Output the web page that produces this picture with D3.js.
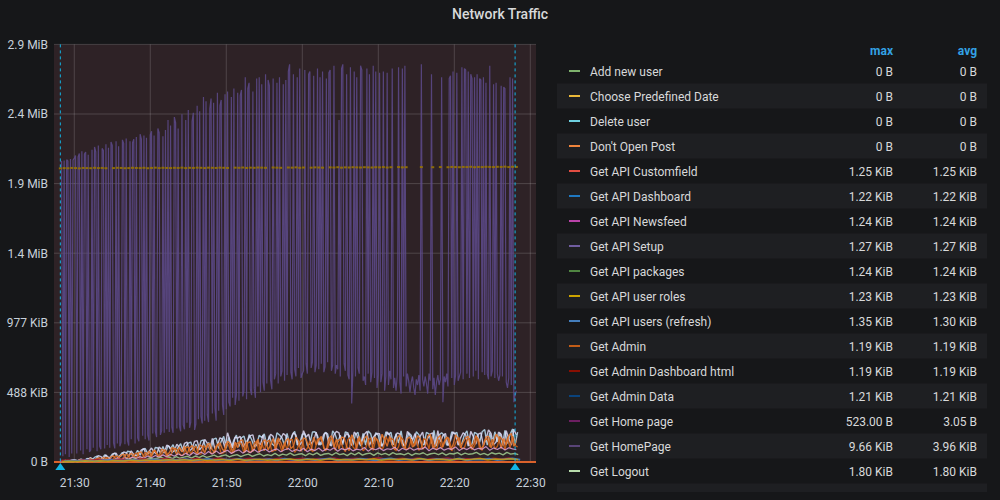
<!DOCTYPE html>
<html><head><meta charset="utf-8">
<script src="https://cdn.jsdelivr.net/npm/d3@7"></script>
<style>
html,body{margin:0;padding:0;background:#161719;}
svg{display:block;font-family:Roboto,"Noto Sans",sans-serif;}
</style></head><body>
<svg id="c" width="1000" height="500"></svg>
<script>
// ---------------- DATA ----------------
const title = "Network Traffic";
const yTickValues = [0, 500000, 1000000, 1500000, 2000000, 2500000, 3000000]; // bytes
const yTickLabels = ["0 B", "488 KiB", "977 KiB", "1.4 MiB", "1.9 MiB", "2.4 MiB", "2.9 MiB"];
const xTickTimes = ["21:30", "21:40", "21:50", "22:00", "22:10", "22:20", "22:30"];
const xTickLabels = ["21:30", "21:40", "21:50", "22:00", "22:10", "22:20", "22:30"];
const annotationTimes = ["21:28:10", "22:28:00"];
const seriesStart = "21:28:10";

// big purple series, KiB, every 10 s
const purpleKiB = [
 2105,2110,40,2115,55,2120,2112,35,2125,60,2118,2130,
 2150,60,2140,2165,80,2180,55,2160,2175,90,2155,70,
 85,2190,100,2210,2175,75,2220,110,90,2200,2185,95,
 2230,120,2205,100,2245,2220,135,95,2250,130,2215,110,
 140,2260,2235,125,2270,150,115,2250,160,2240,2265,130,
 2280,170,145,2300,2265,185,2290,160,2275,190,150,2295,
 2320,200,2290,215,175,2340,2310,190,220,2285,205,2330,
 230,2400,210,2360,245,205,2420,2380,235,2340,250,215,
 2440,260,230,2400,275,2470,240,280,2390,2450,225,265,
 2500,300,2460,320,270,2560,290,2530,330,280,2480,2550,
 340,2520,380,290,2590,360,2500,2540,400,330,2580,370,
 2600,420,390,2560,450,2620,400,470,2590,430,2570,2610,
 460,500,2700,440,2620,2660,510,470,2600,520,450,2690,
 530,2700,490,2650,560,500,2720,550,2680,2640,570,510,
 2690,580,620,2660,550,2700,600,640,2650,570,2680,610,
 2740,2790,630,580,2720,650,600,2700,660,2760,590,620,
 640,2750,690,620,2720,2740,660,700,2710,630,680,2760,
 650,2700,690,2740,630,670,2690,700,2730,2750,640,680,
 2780,620,680,650,2400,600,2760,2790,690,640,2720,610,
 580,2770,410,640,2740,600,2700,660,620,2780,2750,570,
 600,540,2760,620,2720,560,630,2780,590,2740,520,610,
 2730,560,620,2740,500,600,2730,540,640,580,2760,520,
 590,500,610,2770,560,480,2760,600,2780,530,620,570,
 490,560,600,520,470,580,540,610,500,2790,580,530,
 600,550,480,620,570,2720,510,590,470,560,610,540,
 580,2700,420,600,560,620,530,2690,2710,590,2740,540,
 610,2730,570,600,630,2770,580,2760,2750,620,2740,590,
 2720,2690,600,2700,640,2720,580,2690,2680,630,2700,610,
 2660,620,580,2780,600,640,2650,590,2660,620,570,610,
 2640,600,2630,2620,560,520,590,2700,540,2690,420,470,
 500
];

// gold dotted series, KiB, every 30 s (null = no data)
const goldKiB = [
 2060,2062,2061,2063,2062,2060,2063,2062,2061,2064,2062,2063,2061,null,2062,2064,2063,2061,2062,2064,
 2063,2062,2064,2061,2063,2065,2062,2064,2063,2062,2064,2063,2065,2062,2064,2063,2065,2064,2062,2065,
 2064,2063,2065,2064,2063,null,2065,2064,2066,2063,2065,2064,2066,2065,2064,null,2066,2065,2064,null,
 2066,2065,2067,2064,2066,null,2065,2067,2066,2065,null,2067,2066,2068,2065,2067,2066,2068,2067,2066,
 2068,2067,2066,2068,2067,2069,2066,2068,null,2069,2067,2068,null,null,null,2069,null,null,2068,null,
 2069,null,2068,2070,2069,2068,2070,2069,2071,2068,2070,2069,2071,2070,2069,2071,2070,2072,2069,2071,2070
];

// light blue series, KiB, every 20 s (offset 10 s)
const lightBlueKiB = [
 3,9,5,7,14,11,6,16,19,8,
 25,14,18,32,42,16,24,50,38,28,
 55,62,32,45,68,40,75,72,45,50,
 82,48,90,95,58,72,55,102,98,62,
 108,64,115,92,122,68,104,128,75,110,
 132,140,80,124,85,148,155,88,136,90,
 160,168,95,145,180,98,172,102,155,188,
 108,170,182,112,192,158,110,122,188,172,
 198,115,185,128,112,205,190,168,118,200,
 122,188,215,120,132,195,198,115,128,210,
 212,185,120,132,208,198,115,218,192,138,
 188,122,212,205,128,118,195,208,112,200,
 118,218,198,128,205,188,112,130,212,192,
 208,120,198,132,218,115,128,205,188,118,
 212,192,132,120,208,198,130,222,112,190,
 205,188,118,132,212,198,208,120,130,192,
 218,115,128,208,198,138,212,228,118,205,
 122,212,142,205,118,222,130,192,232,120,210
];

// lavender series, KiB, every 20 s
const lavenderKiB = [
 4,6,12,5,8,15,14,6,18,10,
 12,22,30,14,20,45,38,22,50,28,
 34,58,62,30,44,70,66,40,78,52,
 45,60,85,92,50,75,98,70,55,105,
 88,62,118,110,66,80,125,100,72,130,
 140,78,95,145,150,85,110,158,132,88,
 165,92,120,170,160,100,205,150,98,175,
 168,180,105,130,155,185,190,108,140,120,
 190,112,150,195,180,110,140,165,200,185,
 115,160,205,190,112,130,220,175,195,125,
 150,210,118,140,195,205,130,112,190,215,
 205,120,165,200,185,115,210,190,125,145,
 195,215,115,160,185,200,198,110,135,210,
 190,118,170,205,195,130,112,215,185,150,
 200,115,180,210,118,165,195,205,110,220,
 140,185,200,115,150,210,195,118,170,205,
 190,112,215,180,125,195,205,115,160,225,
 200,120,140,210,195,115,220,165,118,230,190
];

// dark orange series, KiB, every 20 s (offset 10 s)
const darkOrangeKiB = [
 1,4,6,2,8,3,7,10,4,5,
 12,18,6,8,24,28,10,13,33,15,
 14,36,42,20,22,48,55,24,36,58,
 62,25,32,68,56,34,75,80,36,38,
 72,86,40,44,90,95,82,46,50,100,
 105,52,92,110,56,55,115,98,120,60,
 64,112,125,58,66,132,118,62,68,128,
 138,124,64,142,68,72,130,148,66,134,
 78,142,152,72,82,156,126,74,138,86,
 152,160,68,92,138,156,78,96,148,72,
 86,160,165,142,78,96,152,170,82,148,
 160,100,72,156,174,106,86,165,142,78,
 96,152,170,82,160,148,92,100,178,142,
 165,156,78,106,174,152,86,96,160,110,
 170,82,100,165,152,92,178,106,86,156,
 96,142,174,160,78,110,152,170,92,100,
 156,165,86,115,174,96,82,152,165,106,
 160,92,110,178,152,86,170,100,182,115,106
];

// orange series, KiB, every 20 s
const orangeKiB = [
 2,5,8,3,6,10,4,9,13,8,
 6,15,22,10,18,28,12,32,25,15,
 38,42,18,30,48,55,25,40,62,44,
 26,66,70,35,50,76,38,84,62,40,
 90,80,45,65,100,95,48,105,70,110,
 55,100,115,80,58,120,108,62,125,130,
 85,65,122,135,90,70,145,128,68,140,
 100,150,155,70,135,142,75,110,160,80,
 145,155,85,120,165,78,170,138,90,150,
 165,95,110,175,150,75,170,160,105,80,
 175,120,155,180,95,85,165,185,105,160,
 90,175,170,110,80,190,155,95,180,120,
 165,185,105,90,175,160,100,195,155,110,
 180,120,85,170,190,115,95,165,175,105,
 120,185,165,90,110,180,195,100,115,170,
 185,105,155,175,85,120,190,165,100,140,
 170,180,95,125,185,160,90,115,175,180,
 100,140,195,170,95,165,120,185,200,110,150
];

// pink series, KiB, every 30 s
const pinkKiB = [
 3,6,4,8,5,10,7,12,8,15,
 10,18,12,22,15,26,18,30,20,34,
 24,38,26,42,30,46,33,50,36,54,
 40,58,44,62,46,66,50,70,52,74,
 55,78,58,72,82,60,76,85,62,80,
 65,88,68,82,90,70,84,92,72,86,
 95,74,88,78,96,72,90,80,98,76,
 92,82,100,75,94,85,98,78,90,84,
 102,76,95,86,99,80,93,88,104,78,
 96,84,100,82,94,90,105,79,97,86,
 101,83,95,89,106,80,98,87,103,85,
 96,90,108,82,99,88,104,84,100,92,86
];

// green series, KiB, every 30 s
const greenKiB = [
 2,4,3,5,4,7,5,9,6,10,
 8,12,9,15,11,18,12,20,14,22,
 16,25,18,28,20,26,32,22,35,24,
 38,26,34,40,28,42,30,45,32,40,
 48,34,44,50,36,46,52,38,48,55,
 40,50,58,42,52,45,60,44,55,48,
 62,46,54,58,44,60,50,64,46,56,
 60,48,65,52,58,45,62,50,66,48,
 58,62,46,64,52,60,48,66,54,58,
 50,63,47,60,55,65,49,58,62,52,
 64,48,60,56,66,50,62,54,58,67,
 52,60,48,65,56,62,50,68,55,60,52
];

// low band series, KiB, every 60 s
const redKiB = [
 8,12,6,15,10,18,9,14,20,11,
 16,22,12,18,25,14,20,16,24,13,
 19,26,15,21,17,25,14,22,18,27,
 15,20,24,16,23,19,26,14,21,25,
 17,22,28,15,20,24,18,26,16,23,
 21,27,15,22,19,25,17,24,20,26,
 18
];
const blueKiB = [
 5,9,7,12,6,10,14,8,11,16,
 9,13,18,10,15,12,19,11,16,21,
 12,17,14,22,11,18,15,20,13,23,
 16,12,21,14,19,24,13,18,15,22,
 17,13,20,25,14,19,16,23,12,21,
 18,15,24,13,20,17,22,14,19,25,
 16
];
const goldLowKiB = [
 3,6,4,8,5,9,6,11,7,12,
 8,14,9,12,16,10,15,11,18,10,
 14,17,11,19,13,16,20,12,18,15,
 21,13,17,19,12,22,15,18,14,20,
 16,23,13,19,17,21,14,24,15,18,
 20,13,22,16,19,25,14,21,17,23,
 15
];

// legend
const legendNames = ["Add new user","Choose Predefined Date","Delete user","Don't Open Post","Get API Customfield","Get API Dashboard","Get API Newsfeed","Get API Setup","Get API packages","Get API user roles","Get API users (refresh)","Get Admin","Get Admin Dashboard html","Get Admin Data","Get Home page","Get HomePage","Get Logout"];
const legendColors = ["#7EB26D","#EAB839","#6ED0E0","#EF843C","#E24D42","#1F78C1","#BA43A9","#705DA0","#508642","#CCA300","#447EBC","#C15C17","#890F02","#0A437C","#6D1F62","#584477","#B7DBAB"];
const legendMax = ["0 B","0 B","0 B","0 B","1.25 KiB","1.22 KiB","1.24 KiB","1.27 KiB","1.24 KiB","1.23 KiB","1.35 KiB","1.19 KiB","1.19 KiB","1.21 KiB","523.00 B","9.66 KiB","1.80 KiB"];
const legendAvg = ["0 B","0 B","0 B","0 B","1.25 KiB","1.22 KiB","1.24 KiB","1.27 KiB","1.24 KiB","1.23 KiB","1.30 KiB","1.19 KiB","1.19 KiB","1.21 KiB","3.05 B","3.96 KiB","1.80 KiB"];
const legendHeaders = ["max","avg"];

// ---------------- DRAW ----------------
const svg = d3.select("#c");
const W = 1000, H = 500;
const P = {left: 54, right: 536, top: 44.4, bottom: 462};
function tm(s){ const p = s.split(":").map(Number); return Date.UTC(2021,0,1,p[0],p[1],p[2]||0); }
const x = d3.scaleUtc().domain([tm("21:27:20"), tm("22:30:45")]).range([P.left, P.right]);
const y = d3.scaleLinear().domain([0, 3000000]).range([P.bottom, P.top]);
const T0 = tm(seriesStart);

svg.append("rect").attr("width", W).attr("height", H).attr("fill", "#161719");
svg.append("text").attr("x", 500).attr("y", 19).attr("text-anchor", "middle")
  .attr("font-size", 14).attr("font-weight", 500).attr("fill", "#d8d9da").text(title);

// plot background (threshold region)
svg.append("rect").attr("x", P.left).attr("y", P.top).attr("width", P.right - P.left)
  .attr("height", P.bottom - P.top).attr("fill", "#2e2226");

// grid
const grid = svg.append("g");
grid.selectAll("line.h").data(yTickValues).join("line")
  .attr("x1", P.left).attr("x2", P.right).attr("y1", d => y(d)).attr("y2", d => y(d))
  .attr("stroke", "rgba(255,255,255,0.16)").attr("stroke-width", 1);
grid.selectAll("line.v").data(xTickTimes).join("line")
  .attr("x1", d => x(tm(d))).attr("x2", d => x(tm(d))).attr("y1", P.top).attr("y2", P.bottom)
  .attr("stroke", "rgba(255,255,255,0.16)").attr("stroke-width", 1);

// threshold line at 0
svg.append("line").attr("x1", P.left).attr("x2", P.right).attr("y1", y(0)).attr("y2", y(0))
  .attr("stroke", "#d9622b").attr("stroke-width", 2);

// axes
const yAxis = d3.axisLeft(y).tickValues(yTickValues).tickSize(0).tickPadding(6)
  .tickFormat((d, i) => yTickLabels[i]);
const gy = svg.append("g").attr("transform", `translate(${P.left},0)`).call(yAxis);
gy.select(".domain").remove();
gy.selectAll("text").attr("fill", "#c7d0d9").attr("font-size", 12).attr("font-family", "Roboto");

const xAxis = d3.axisBottom(x).tickValues(xTickTimes.map(tm)).tickSize(0).tickPadding(16)
  .tickFormat((d, i) => xTickLabels[i]);
const gx = svg.append("g").attr("transform", `translate(0,${P.bottom})`).call(xAxis);
gx.select(".domain").remove();
gx.selectAll("text").attr("fill", "#c7d0d9").attr("font-size", 12).attr("font-family", "Roboto");

// series
svg.append("clipPath").attr("id", "pc").append("rect")
  .attr("x", P.left).attr("y", P.top - 2).attr("width", P.right - P.left).attr("height", P.bottom - P.top + 6);
const gs = svg.append("g").attr("clip-path", "url(#pc)");
function drawSeries(arr, step, offset, color, w, op){
  const line = d3.line().defined(d => d != null)
    .x((d, i) => x(T0 + (offset + i * step) * 1000)).y(d => y(d * 1024));
  gs.append("path").datum(arr).attr("d", line).attr("fill", "none")
    .attr("stroke", color).attr("stroke-width", w).attr("stroke-opacity", op)
    .attr("stroke-linejoin", "bevel");
}
drawSeries(purpleKiB, 10, 0, "#5d4a8c", 1.2, 0.85);
// gold dotted
gs.selectAll("rect.gold").data(goldKiB.map((v, i) => ({v, i})).filter(d => d.v != null)).join("rect")
  .attr("x", d => x(T0 + d.i * 30000) - 1.5).attr("y", d => y(d.v * 1024) - 1)
  .attr("width", 3).attr("height", 2).attr("fill", "#967302").attr("opacity", 0.9);

drawSeries(lightBlueKiB, 20, 10, "#BADFF4", 1.4, 0.85);
drawSeries(lavenderKiB, 20, 0, "#DEDAF7", 1.4, 0.85);
drawSeries(darkOrangeKiB, 20, 10, "#C15C17", 1.4, 0.95);
drawSeries(orangeKiB, 20, 0, "#E0752D", 1.4, 0.9);
drawSeries(pinkKiB, 30, 0, "#E5A8E2", 1.2, 0.8);
drawSeries(greenKiB, 30, 15, "#9AC48A", 1.4, 0.9);
drawSeries(redKiB, 60, 0, "#A3202A", 2, 0.9);
drawSeries(blueKiB, 60, 30, "#447EBC", 2, 0.9);
drawSeries(goldLowKiB, 60, 15, "#CCA300", 1.5, 0.8);

// annotations
const ga = svg.append("g");
annotationTimes.forEach(s => {
  const ax = x(tm(s));
  ga.append("line").attr("x1", ax).attr("x2", ax).attr("y1", P.top).attr("y2", P.bottom)
    .attr("stroke", "#12b5e5").attr("stroke-width", 1).attr("stroke-dasharray", "3,3");
  ga.append("path").attr("d", `M${ax-5},470 L${ax},463 L${ax+5},470 Z`).attr("fill", "#12b5e5");
});

// legend
svg.append("clipPath").attr("id", "lc").append("rect").attr("x", 550).attr("y", 30).attr("width", 450).attr("height", 462);
const lgc = svg.append("g").attr("clip-path", "url(#lc)");
legendHeaders.forEach((h, k) => {
  lgc.append("text").attr("x", k === 0 ? 893 : 977).attr("y", 54.5).attr("text-anchor", "end")
    .attr("font-size", 12).attr("font-weight", 700).attr("fill", "#33a2e5").text(h);
});
const rowY = i => 71 + i * 25;
// shading for odd rows (including the partially visible row below the last one)
d3.range(legendNames.length + 1).filter(i => i % 2 === 1).forEach(i => {
  lgc.append("rect").attr("x", 557).attr("y", rowY(i) - 12.5).attr("width", 430).attr("height", 25).attr("fill", "#1e1f22");
});
const rows = lgc.selectAll("g.row").data(legendNames).join("g")
  .attr("transform", (d, i) => `translate(0,${rowY(i)})`);
rows.append("line").attr("x1", 569).attr("x2", 580).attr("y1", 0).attr("y2", 0)
  .attr("stroke", (d, i) => legendColors[i]).attr("stroke-width", 2);
rows.append("text").attr("x", 590).attr("y", 5).attr("font-size", 12).attr("fill", "#d8d9da").text(d => d);
rows.append("text").attr("x", 893).attr("y", 5).attr("text-anchor", "end").attr("font-size", 12)
  .attr("fill", "#d8d9da").text((d, i) => legendMax[i]);
rows.append("text").attr("x", 977).attr("y", 5).attr("text-anchor", "end").attr("font-size", 12)
  .attr("fill", "#d8d9da").text((d, i) => legendAvg[i]);
</script>
</body></html>
